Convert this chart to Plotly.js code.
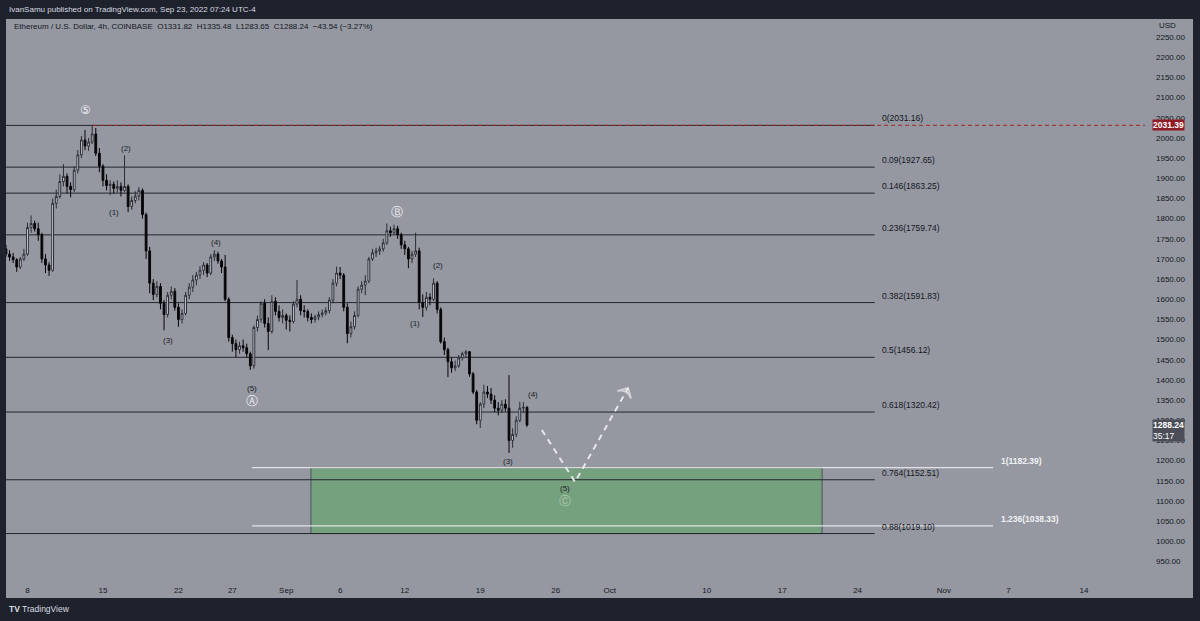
<!DOCTYPE html>
<html><head><meta charset="utf-8">
<script src="https://cdn.plot.ly/plotly-3.0.1.min.js"></script>
<style>html,body{margin:0;padding:0;background:#1e222d;}#chart{width:1200px;height:621px;}</style>
</head><body><div id="chart"></div>
<script>
// ---- ETH/USD 8h candles, starting 2022-08-06 00:00 ----
const candleStartUTC = [2022, 7, 6];
const candleHours = 8;
const opens = [
1725,1712,1705, 1698,1680,1700, 1712,1778,1788, 1775,1760,1700, 1685,1672,1838,
1855,1892,1905, 1880,1872,1920, 1958,1995,1980, 1990,2010,1962, 1930,1895,1882,
1885,1875,1880, 1870,1880,1830, 1845,1856,1870, 1810,1720,1640, 1612,1632,1590,
1562,1610,1620, 1580,1550,1565, 1610,1630,1648, 1660,1672,1685, 1665,1705,1712,
1695,1680,1600, 1505,1490,1475, 1485,1480,1465, 1435,1530,1550, 1590,1540,1520,
1595,1570,1555, 1560,1548,1545, 1588,1600,1572, 1570,1555,1550, 1556,1562,1566,
1572,1598,1640, 1665,1660,1580, 1515,1532,1560, 1625,1635,1645, 1700,1715,1720,
1725,1740,1770, 1765,1775,1760, 1735,1725,1700, 1712,1720,1592, 1580,1605,1600,
1640,1575,1495, 1475,1445,1430, 1435,1455,1465, 1470,1415,1370, 1300,1340,1370,
1365,1350,1330, 1325,1340,1330, 1250,1265,1300, 1330,1331.82];
const highs = [
1735,1722,1715, 1702,1705,1725, 1790,1808,1795, 1790,1765,1712, 1692,1850,1872,
1910,1935,1912, 1890,1930,1970, 2005,2020,2000, 2031,2025,1975, 1935,1910,1895,
1892,1895,1890, 1957,1885,1855, 1868,1878,1875, 1815,1730,1650, 1645,1640,1598,
1618,1632,1628, 1590,1575,1618, 1640,1660,1668, 1682,1692,1690, 1712,1722,1718,
1700,1710,1605, 1512,1500,1495, 1500,1490,1470, 1535,1560,1595, 1600,1555,1610,
1605,1585,1575, 1565,1560,1595, 1648,1610,1585, 1575,1565,1562, 1570,1575,1580,
1605,1650,1681, 1680,1665,1590, 1545,1570,1632, 1645,1660,1705, 1725,1728,1732,
1750,1788,1780, 1785,1782,1765, 1745,1730,1720, 1765,1728,1612, 1618,1615,1652,
1645,1580,1505, 1480,1455,1448, 1462,1470,1474, 1472,1420,1375, 1345,1388,1385,
1380,1362,1345, 1350,1352,1412, 1280,1310,1346, 1345,1335.48];
const lows = [
1705,1695,1690, 1668,1675,1695, 1708,1765,1768, 1745,1690,1665, 1658,1668,1825,
1850,1880,1862, 1853,1866,1912, 1950,1970,1968, 1985,1955,1915, 1880,1870,1858,
1862,1865,1855, 1865,1816,1822, 1838,1845,1800, 1700,1615,1598, 1605,1575,1523,
1555,1600,1572, 1532,1540,1560, 1600,1618,1635, 1650,1660,1655, 1660,1695,1688,
1665,1595,1495, 1470,1456,1465, 1470,1455,1425, 1428,1520,1542, 1530,1474,1515,
1560,1545,1540, 1525,1520,1540, 1580,1560,1555, 1545,1540,1542, 1548,1555,1560,
1565,1590,1632, 1650,1570,1491, 1505,1525,1555, 1615,1610,1640, 1695,1705,1710,
1718,1735,1755, 1760,1750,1725, 1710,1677,1690, 1705,1575,1556, 1572,1585,1595,
1565,1490,1462, 1407,1418,1422, 1430,1448,1455, 1408,1365,1290, 1281,1330,1355,
1340,1320,1312, 1318,1322,1219, 1232,1258,1295, 1318,1283.65];
const closes = [
1712,1705,1698, 1680,1700,1712, 1778,1788,1775, 1760,1700,1685, 1672,1838,1855,
1892,1905,1880, 1872,1920,1958, 1995,1980,1990, 2010,1962,1930, 1895,1882,1885,
1875,1880,1870, 1880,1830,1845, 1856,1870,1810, 1720,1640,1612, 1632,1590,1562,
1610,1620,1580, 1550,1565,1610, 1630,1648,1660, 1672,1685,1665, 1705,1712,1695,
1680,1600,1505, 1490,1475,1485, 1480,1465,1435, 1530,1550,1590, 1540,1520,1595,
1570,1555,1560, 1548,1545,1588, 1600,1572,1570, 1555,1550,1556, 1562,1566,1572,
1598,1640,1665, 1660,1580,1515, 1532,1560,1625, 1635,1645,1700, 1715,1720,1725,
1740,1770,1765, 1775,1760,1735, 1725,1700,1712, 1720,1592,1580, 1605,1600,1640,
1575,1495,1475, 1445,1430,1435, 1455,1465,1470, 1415,1370,1300, 1340,1370,1365,
1350,1330,1325, 1340,1330,1250, 1265,1300,1330, 1332,1288.24];

// ---- Fibonacci retracement levels ----
const fibRatios = ['0','0.09','0.146','0.236','0.382','0.5','0.618','0.764','0.88'];
const fibPrices = [2031.16,1927.65,1863.25,1759.74,1591.83,1456.12,1320.42,1152.51,1019.10];
// ---- Fibonacci extension levels ----
const extRatios = ['1','1.236'];
const extPrices = [1182.39,1038.33];
// ---- target zone ----
const zonePrices = [1019.10, 1182.39];
// ---- projected path ----
const projDates = ['2022-09-24 17:00','2022-09-27 19:00','2022-10-02 17:00'];
const projPrices = [1276,1147,1380];
// ---- Elliott wave labels ----
const waveText  = ['⑤','(2)','(1)','(4)','(3)','(5)','Ⓐ','Ⓑ','(2)','(1)','(4)','(3)','(5)','Ⓒ'];
const waveDates = ['2022-08-13 10:00','2022-08-17 03:00','2022-08-16 00:30','2022-08-25 12:00','2022-08-21 01:00',
                   '2022-08-28 20:00','2022-08-28 20:00','2022-09-11 07:00','2022-09-15 02:00','2022-09-12 23:00',
                   '2022-09-23 21:00','2022-09-21 14:00','2022-09-26 21:00','2022-09-26 21:00'];
const wavePrices = [2069,1975,1816,1740,1499,1380,1348,1816,1685,1541,1363,1199,1132,1100];
// ---- last price marks ----
const highMark = 2031.39;
const lastPrice = 1288.24;
const countdown = '35:17';
// ---- axis ticks ----
const xTickDates = ['2022-08-08','2022-08-15','2022-08-22','2022-08-27','2022-09-01','2022-09-06','2022-09-12',
  '2022-09-19','2022-09-26','2022-10-01','2022-10-10','2022-10-17','2022-10-24','2022-11-01','2022-11-07','2022-11-14'];
const xTickText = ['8','15','22','27','Sep','6','12','19','26','Oct','10','17','24','Nov','7','14'];

// ---- drawing extents (layout, not data) ----
const X_RANGE = ['2022-08-06 00:08','2022-11-19 15:50'];
const Y_RANGE = [908.9, 2292.5];
const FIB_X0 = '2022-08-01', FIB_X1 = '2022-10-25 14:00', FIB_LABEL_X = '2022-10-26 02:00';
const EXT_X0 = '2022-08-28 20:00', EXT_X1 = '2022-11-05 13:30', EXT_LABEL_X = '2022-11-06 02:00';
const ZONE_X0 = '2022-09-03 07:00', ZONE_X1 = '2022-10-20 17:00';
const PRICE_LINE_X0 = '2022-08-14 02:00';

const t0 = Date.UTC(candleStartUTC[0], candleStartUTC[1], candleStartUTC[2]);
const times = closes.map((_, i) => new Date(t0 + i * candleHours * 3600e3).toISOString().slice(0,16).replace('T',' '));

const FONT = 'Liberation Sans, Arial, sans-serif';
const DARK = '#131722';
const PW = 1139, PH = 558, L = 6, B = 578;
const px = x => (x - L) / PW;
const py = y => (B - y) / PH;

const traces = [
  {
    type: 'candlestick', x: times, open: opens, high: highs, low: lows, close: closes,
    increasing: {line: {color: '#2a2d35', width: 1}, fillcolor: '#e4e5e9'},
    decreasing: {line: {color: '#050608', width: 1}, fillcolor: '#050608'},
    whiskerwidth: 0, hoverinfo: 'skip', showlegend: false
  },
  {
    type: 'scatter', mode: 'lines+markers', x: projDates, y: projPrices,
    line: {color: 'rgba(240,241,244,0.9)', width: 2, dash: '6px,5px'},
    marker: {symbol: ['circle','circle','arrow-wide-open'], size: [0,0,11], angleref: 'previous',
             color: 'rgba(240,241,244,0.9)', line: {color: 'rgba(240,241,244,0.9)', width: 2}},
    hoverinfo: 'skip', showlegend: false
  }
];

const shapes = [
  {type:'rect', xref:'paper', yref:'paper', x0: px(6), x1: px(1193), y0: py(598), y1: py(19),
   fillcolor:'#9598a1', line:{width:0}, layer:'below'},
];
shapes.push({type:'rect', xref:'x', yref:'y', x0: ZONE_X0, x1: ZONE_X1, y0: zonePrices[0], y1: zonePrices[1],
  fillcolor:'rgba(76,175,80,0.42)', line:{color:'#4f525a', width:1}, layer:'below'});
fibPrices.forEach(p => shapes.push({type:'line', xref:'x', yref:'y', x0: FIB_X0, x1: FIB_X1, y0: p, y1: p,
  line:{color:'#22252d', width:1}, layer:'below'}));
extPrices.forEach(p => shapes.push({type:'line', xref:'x', yref:'y', x0: EXT_X0, x1: EXT_X1, y0: p, y1: p,
  line:{color:'rgba(245,246,248,0.8)', width:1.2}, layer:'below'}));
shapes.push({type:'line', xref:'x', yref:'y', x0: PRICE_LINE_X0, x1: X_RANGE[1], y0: highMark, y1: highMark,
  line:{color:'#a3242e', width:1, dash:'4px,3px'}, layer:'below'});

const annotations = [];
fibRatios.forEach((r, i) => annotations.push({xref:'x', yref:'y', x: FIB_LABEL_X, y: fibPrices[i],
  text: r + '(' + fibPrices[i].toFixed(2) + ')', showarrow:false, xanchor:'left', yanchor:'bottom',
  font:{family: FONT, size: 8.5, color: DARK}}));
extRatios.forEach((r, i) => annotations.push({xref:'x', yref:'y', x: EXT_LABEL_X, y: extPrices[i],
  text: '<b>' + r + '(' + extPrices[i].toFixed(2) + ')</b>', showarrow:false, xanchor:'left', yanchor:'bottom',
  font:{family: FONT, size: 8.5, color: '#f0f1f4'}}));
waveText.forEach((t, i) => {
  const circled = t.length === 1;
  annotations.push({xref:'x', yref:'y', x: waveDates[i], y: wavePrices[i], text: t, showarrow:false,
    xanchor:'center', yanchor:'middle',
    font:{family: circled ? 'DejaVu Sans, sans-serif' : FONT, size: circled ? 12 : 8,
          color: circled ? (i === 13 ? 'rgba(220,235,222,0.55)' : '#eceef2') : '#1a1d25'}});
});
// price tags (drawn over the axis labels as in the original)
annotations.push({xref:'paper', yref:'y', x: px(1152), y: highMark, text: '<b>' + highMark.toFixed(2) + '</b>',
  showarrow:false, xanchor:'left', yanchor:'middle', bgcolor:'#8e1c26', borderpad: 0,
  font:{family: FONT, size: 8.5, color:'#ffffff'}});
annotations.push({xref:'paper', yref:'y', x: px(1152), y: lastPrice, yshift: -5,
  text: '<b>' + lastPrice.toFixed(2) + '</b><br>' + countdown,
  showarrow:false, xanchor:'left', yanchor:'middle', align:'left', bgcolor:'#4b4e57', borderpad: 0,
  font:{family: FONT, size: 8.5, color:'#ffffff'}});
annotations.push({xref:'paper', yref:'paper', x: px(1157), y: py(26), text:'USD', showarrow:false,
  xanchor:'left', yanchor:'middle', font:{family: FONT, size: 8, color: DARK}});
annotations.push({xref:'paper', yref:'paper', x: px(7), y: py(9), text:'IvanSamu published on TradingView.com, Sep 23, 2022 07:24 UTC-4',
  showarrow:false, xanchor:'left', yanchor:'middle', font:{family: FONT, size: 8, color:'#d9dbe1'}});
annotations.push({xref:'paper', yref:'paper', x: px(12), y: py(27),
  text:'Ethereum / U.S. Dollar, 4h, COINBASE  O1331.82  H1335.48  L1283.65  C1288.24  −43.54 (−3.27%)',
  showarrow:false, xanchor:'left', yanchor:'middle', font:{family: FONT, size: 8, color: DARK}});
annotations.push({xref:'paper', yref:'paper', x: px(7), y: py(609), text:'<b>TV</b> TradingView',
  showarrow:false, xanchor:'left', yanchor:'middle', font:{family: FONT, size: 8.5, color:'#d9dbe1'}});

const layout = {
  width: 1200, height: 621,
  margin: {l: 6, r: 55, t: 20, b: 43},
  paper_bgcolor: '#1e222d', plot_bgcolor: 'rgba(0,0,0,0)',
  showlegend: false,
  xaxis: {type:'date', range: X_RANGE, tickvals: xTickDates, ticktext: xTickText, showgrid:false, zeroline:false,
          showline:false, ticks:'', ticklabelstandoff: 6, tickfont:{family: FONT, size: 8, color: DARK},
          rangeslider:{visible:false}, fixedrange:true},
  yaxis: {side:'right', range: Y_RANGE, dtick: 50, tick0: 0, tickformat: '.2f', showgrid:false, zeroline:false,
          showline:false, ticks:'', ticklabelstandoff: 10, tickfont:{family: FONT, size: 8, color: DARK}, fixedrange:true},
  shapes: shapes, annotations: annotations
};
Plotly.newPlot('chart', traces, layout, {staticPlot: true, displayModeBar: false});
</script></body></html>
